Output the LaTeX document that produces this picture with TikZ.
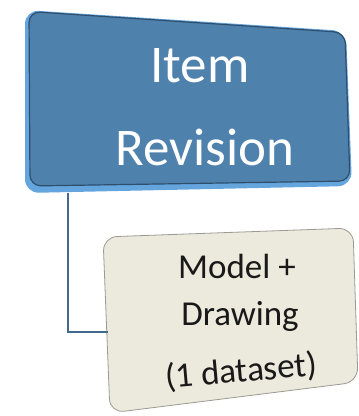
\documentclass[tikz,border=0pt]{standalone}
\usepackage{fontspec}
\setmainfont{Carlito}
\definecolor{boxblue}{HTML}{4F81AD}
\definecolor{rimblue}{HTML}{64A5DE}
\definecolor{darkrim}{HTML}{2E4E6C}
\definecolor{cream}{HTML}{ECE9DD}
\definecolor{creamedge}{HTML}{9C9A92}
\definecolor{linkblue}{HTML}{44698F}
\begin{document}
\begin{tikzpicture}[x=1pt,y=-1pt,
  bigtext/.style={text=white,font=\fontsize{53}{53}\selectfont,anchor=base,inner sep=0pt},
  smalltext/.style={text=black!90,font=\fontsize{35}{35}\selectfont,anchor=base,inner sep=0pt},
  link/.style={draw=linkblue,line width=1.3pt}]
\useasboundingbox (0,0) rectangle (359,416);
% top box
\coordinate (t1) at (25,10);
\coordinate (t2) at (346,31);
\coordinate (t3) at (352,186);
\coordinate (t4) at (25,193);
\fill[rimblue,rounded corners=14pt] (t1) -- (t2) -- (t3) -- (t4) -- cycle;
\draw[darkrim,fill=boxblue,line width=1.2pt,rounded corners=11pt] (29,11.5) -- (345,32.5) -- (350,181) -- (30,186) -- cycle;
\node[bigtext] (item) at (200,82) {Item};
\node[bigtext] (rev) at (205,165) {Revision};
% bottom box
\coordinate (b1) at (103,237);
\coordinate (b2) at (353,228);
\coordinate (b3) at (358,382);
\coordinate (b4) at (110,413);
\draw[creamedge,fill=cream,line width=0.8pt,rounded corners=14pt] (b1) -- (b2) -- (b3) -- (b4) -- cycle;
\node[smalltext] (model) at (237,278) {Model +};
\node[smalltext] (drawing) at (240,325) {Drawing};
\node[smalltext,rotate=5] (dataset) at (242,382) {(1 dataset)};
% connector
\coordinate (c1) at (68,193);
\coordinate (c2) at (108,332);
\draw[link] (c1) |- (c2);
\end{tikzpicture}
\end{document}
